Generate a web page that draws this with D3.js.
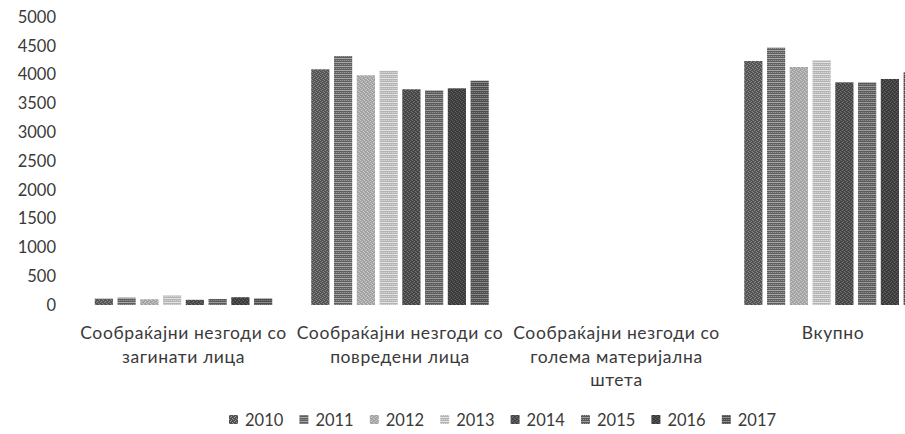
<!DOCTYPE html>
<html>
<head>
<meta charset="utf-8">
<script src="https://cdn.jsdelivr.net/npm/d3@7"></script>
<style>
  body { margin: 0; background: #fff; }
  svg text { font-family: Lato, "Noto Sans", sans-serif; fill: #3a3a3a; }
</style>
</head>
<body>
<script>
// data
var categories = ["Сообраќајни незгоди со\nзагинати лица",
                  "Сообраќајни незгоди со\nповредени лица",
                  "Сообраќајни незгоди со\nголема материјална\nштета",
                  "Вкупно"];
var years = ["2010", "2011", "2012", "2013", "2014", "2015", "2016", "2017"];
var values = {
  "2010": [110, 4092, 0, 4236],
  "2011": [128, 4323, 0, 4467],
  "2012": [100, 3988, 0, 4132],
  "2013": [165, 4068, 0, 4248],
  "2014": [90, 3745, 0, 3866],
  "2015": [105, 3727, 0, 3866],
  "2016": [135, 3762, 0, 3924],
  "2017": [115, 3894, 0, 4040]
};
var yTicks = [0, 500, 1000, 1500, 2000, 2500, 3000, 3500, 4000, 4500, 5000];

var width = 905, height = 434;
var greys = ["#505050", "#5e5e5e", "#a0a0a0", "#b4b4b4", "#424242", "#5a5a5a", "#383838", "#4c4c4c"];
var specks = ["#9a9a9a", "#a8a8a8", "#d8d8d8", "#e2e2e2", "#808080", "#9c9c9c", "#6e6e6e", "#8c8c8c"];

var svg = d3.select("body").append("svg")
    .attr("width", width)
    .attr("height", height);

// halftone-like textures
var defs = svg.append("defs");
years.forEach(function(y, i) {
  var p = defs.append("pattern")
      .attr("id", "pat" + y)
      .attr("patternUnits", "userSpaceOnUse")
      .attr("width", 4).attr("height", 4);
  p.append("rect").attr("width", 4).attr("height", 4).attr("fill", greys[i]);
  var dots = (i % 2 == 1) ? [[0,0],[2,0],[0,2],[1,2],[2,2],[3,2]] : [[0,0],[2,1],[1,2],[3,3]];
  dots.forEach(function(d) {
    p.append("rect").attr("x", d[0]).attr("y", d[1]).attr("width", 1).attr("height", 1)
      .attr("fill", specks[i]);
  });
});

var y = d3.scaleLinear().domain([0, 5000]).range([305, 17]);
var x0 = d3.scaleBand().domain(categories).range([75.25, 941.25]).padding(0);
var x1 = d3.scaleBand().domain(years).range([19.5, 197]).paddingInner(0.2);

// y axis labels only
svg.append("g")
   .attr("transform", "translate(56,0)")
   .call(d3.axisLeft(y).tickValues(yTicks).tickFormat(d3.format("d")).tickSize(0).tickPadding(0))
   .call(function(g) { g.select(".domain").remove(); })
   .selectAll("text")
   .style("font-size", "16.5px")
   .attr("fill", "#3a3a3a");

var groups = svg.selectAll("g.cat")
   .data(categories)
   .enter()
   .append("g")
   .attr("class", "cat")
   .attr("transform", function(d) { return "translate(" + x0(d) + ",0)"; });

groups.selectAll("rect")
   .data(function(d, ci) {
     return years.map(function(yr) { return { year: yr, v: values[yr][ci] }; });
   })
   .enter()
   .append("rect")
   .attr("x", function(d) { return x1(d.year); })
   .attr("y", function(d) { return y(d.v); })
   .attr("width", x1.bandwidth())
   .attr("height", function(d) { return y(0) - y(d.v); })
   .attr("fill", function(d) { return "url(#pat" + d.year + ")"; });

// category labels, pre-broken lines
groups.append("text")
   .attr("x", x0.bandwidth() / 2)
   .attr("text-anchor", "middle")
   .style("font-size", "17.5px")
   .style("letter-spacing", "0.6px")
   .selectAll("tspan")
   .data(function(d) { return d.split("\n"); })
   .enter()
   .append("tspan")
   .attr("x", x0.bandwidth() / 2)
   .attr("y", function(d, i) { return 339 + i * 23.5; })
   .text(function(d) { return d; });

// legend
var legend = svg.append("g")
   .selectAll("g")
   .data(years)
   .enter()
   .append("g")
   .attr("transform", function(d, i) { return "translate(" + (229 + i * 70.4) + ",415)"; });
legend.append("rect")
   .attr("width", 9).attr("height", 9)
   .attr("fill", function(d) { return "url(#pat" + d + ")"; });
legend.append("text")
   .attr("x", 16).attr("y", 10.5)
   .style("font-size", "16.5px")
   .text(function(d) { return d; });
</script>
</body>
</html>
